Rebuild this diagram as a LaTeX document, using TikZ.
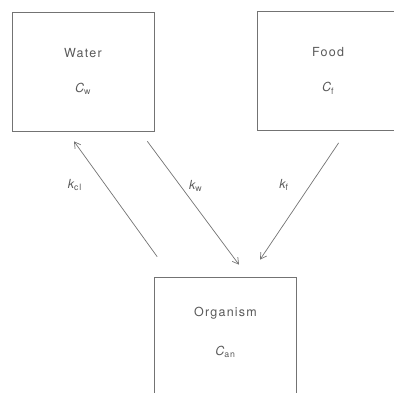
\documentclass[tikz,border=0pt]{standalone}
\usepackage{fontspec}
\setsansfont{TeX Gyre Heros}[LetterSpace=10]
\usetikzlibrary{positioning,arrows.meta}

\begin{document}
\begin{tikzpicture}[x=1pt,y=-1pt,
    every node/.style={font=\sffamily\fontsize{12.5}{15}\selectfont, text=black!65},
    comp/.style={draw=black!55, line width=0.7pt, minimum width=142pt, minimum height=119pt, align=center, inner sep=0pt},
    flow/.style={draw=black!55, line width=0.7pt, -{Straight Barb[length=6pt,width=7pt]}},
    rate/.style={font=\sffamily\fontsize{12.5}{15}\selectfont}
]
    \useasboundingbox (0,0) rectangle (394,392);
    \clip (0,0) rectangle (394,392);

    \node[comp] (water) at (83,71.5) {Water\\[20pt]{\itshape C}\textsubscript{w}};
    \node[comp] (food) at (328,71) {Food\\[20pt]{\itshape C}\textsubscript{f}};
    \node[comp, minimum height=120pt] (org) at (225.5,337) {Organism\\[24pt]{\itshape C}\textsubscript{an}\\[-8pt]\strut};

    % uptake from water and food, clearance back to water
    \draw[flow] ([shift={(3,-20)}]org.north west) -- ([shift={(-9,10)}]water.south) node[pos=0.62,left=20pt,rate] (kcl) {{\itshape k}\textsubscript{cl}};
    \draw[flow] ([shift={(-7,10)}]water.south east) -- ([shift={(13.5,-12)}]org.north) node[pos=0.36,right=5pt,rate] (kw) {{\itshape k}\textsubscript{w}};
    \draw[flow] ([shift={(82,12)}]food.south west) -- ([shift={(34.5,-17)}]org.north) node[pos=0.36,left=18pt,rate] (kf) {{\itshape k}\textsubscript{f}};
\end{tikzpicture}
\end{document}
